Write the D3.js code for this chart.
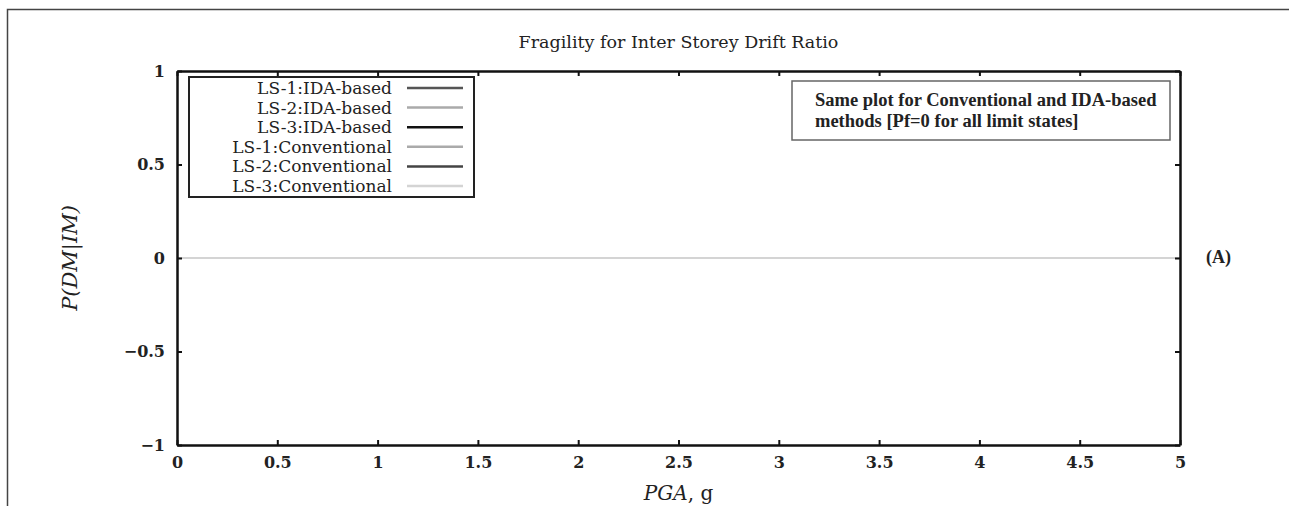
<!DOCTYPE html>
<html>
<head>
<meta charset="utf-8">
<script src="https://cdn.jsdelivr.net/npm/d3@7"></script>
<style>
body { margin: 0; background: #fff; }
text { font-family: "DejaVu Serif", serif; fill: #222; }
</style>
</head>
<body>
<div id="chart"></div>
<script>
// data
var pga = [0, 0.5, 1, 1.5, 2, 2.5, 3, 3.5, 4, 4.5, 5];
var seriesNames = ["LS-1:IDA-based", "LS-2:IDA-based", "LS-3:IDA-based",
                   "LS-1:Conventional", "LS-2:Conventional", "LS-3:Conventional"];
var seriesColours = ["#555", "#aaa", "#111", "#aaa", "#444", "#d4d4d4"];
var ls1Ida = [0, 0, 0, 0, 0, 0, 0, 0, 0, 0, 0];
var ls2Ida = [0, 0, 0, 0, 0, 0, 0, 0, 0, 0, 0];
var ls3Ida = [0, 0, 0, 0, 0, 0, 0, 0, 0, 0, 0];
var ls1Conv = [0, 0, 0, 0, 0, 0, 0, 0, 0, 0, 0];
var ls2Conv = [0, 0, 0, 0, 0, 0, 0, 0, 0, 0, 0];
var ls3Conv = [0, 0, 0, 0, 0, 0, 0, 0, 0, 0, 0];
var xTicks = [0, 0.5, 1, 1.5, 2, 2.5, 3, 3.5, 4, 4.5, 5];
var yTicks = [-1, -0.5, 0, 0.5, 1];

var allSeries = [ls1Ida, ls2Ida, ls3Ida, ls1Conv, ls2Conv, ls3Conv];

var width = 1289, height = 506;
var margin = {top: 71, right: 109, bottom: 61, left: 177},
graphWidth = width - margin.left - margin.right,
graphHeight = height - margin.top - margin.bottom;

var svg = d3.select("#chart")
.append("svg")
.attr("width", width)
.attr("height", height);

// outer frame (left and top only)
svg.append("path")
.attr("d", "M7.5," + height + "V9.5H" + width)
.attr("fill", "none")
.attr("stroke", "#444")
.attr("stroke-width", 1.5);

var g = svg.append("g")
.attr("transform", "translate(" + margin.left + "," + margin.top + ")");

var x = d3.scaleLinear().domain([0, 5]).range([0, graphWidth]);
var y = d3.scaleLinear().domain([-1, 1]).range([graphHeight, 0]);

var fmt = function (d) { return d3.format("")(d).replace("-", "\u2212"); };

// data lines
var line = d3.line()
.x(function (d, i) { return x(pga[i]); })
.y(function (d) { return y(d); });

allSeries.forEach(function (s, i) {
    g.append("path")
    .datum(s)
    .attr("d", line)
    .attr("fill", "none")
    .attr("stroke", seriesColours[i])
    .attr("stroke-width", 2);
});

// axes with inward ticks on all sides
g.append("g")
.attr("transform", "translate(0," + graphHeight + ")")
.call(d3.axisBottom(x).tickValues(xTicks).tickSizeInner(-5).tickSizeOuter(0).tickPadding(12).tickFormat(fmt));
g.append("g")
.call(d3.axisTop(x).tickValues(xTicks).tickSizeInner(-5).tickSizeOuter(0).tickFormat(""));
g.append("g")
.call(d3.axisLeft(y).tickValues(yTicks).tickSizeInner(-5).tickSizeOuter(0).tickPadding(12).tickFormat(fmt));
g.append("g")
.attr("transform", "translate(" + graphWidth + ",0)")
.call(d3.axisRight(y).tickValues(yTicks).tickSizeInner(-5).tickSizeOuter(0).tickFormat(""));

g.selectAll(".domain").attr("stroke", "#111").attr("stroke-width", 2.5);
g.selectAll(".tick line").attr("stroke", "#111").attr("stroke-width", 2);
g.selectAll(".tick text")
.style("font-family", "DejaVu Serif, serif")
.style("font-size", "16px")
.style("font-weight", "bold")
.attr("fill", "#222");

// title
svg.append("text")
.attr("x", margin.left + graphWidth / 2)
.attr("y", 48)
.attr("text-anchor", "middle")
.style("font-size", "17.5px")
.text("Fragility for Inter Storey Drift Ratio");

// axis labels
var xl = svg.append("text")
.attr("x", margin.left + graphWidth / 2)
.attr("y", 500)
.attr("text-anchor", "middle")
.style("font-size", "20px");
xl.append("tspan").style("font-style", "italic").text("PGA");
xl.append("tspan").text(", g");

svg.append("text")
.attr("transform", "translate(77," + (margin.top + graphHeight / 2) + ") rotate(-90)")
.attr("text-anchor", "middle")
.style("font-size", "21px")
.style("font-style", "italic")
.text("P(DM|IM)");

// legend
var legend = svg.append("g");
legend.append("rect")
.attr("x", 189).attr("y", 77)
.attr("width", 285).attr("height", 120)
.attr("fill", "#fff")
.attr("stroke", "#222")
.attr("stroke-width", 2);

seriesNames.forEach(function (name, i) {
    var ly = 88 + i * 19.6;
    legend.append("text")
    .attr("x", 392).attr("y", ly + 6)
    .attr("text-anchor", "end")
    .style("font-size", "17px")
    .text(name);
    legend.append("line")
    .attr("x1", 407).attr("x2", 463)
    .attr("y1", ly).attr("y2", ly)
    .attr("stroke", seriesColours[i])
    .attr("stroke-width", 2.5);
});

// note box
svg.append("rect")
.attr("x", 792).attr("y", 81)
.attr("width", 378).attr("height", 59)
.attr("fill", "#fff")
.attr("stroke", "#666")
.attr("stroke-width", 1.5);

var note = svg.append("text")
.attr("x", 815).attr("y", 106)
.style("font-family", "Liberation Serif, serif")
.style("font-size", "18.5px")
.style("font-weight", "bold");
note.append("tspan").attr("x", 815).text("Same plot for Conventional and IDA-based");
note.append("tspan").attr("x", 815).attr("dy", 21).text("methods [Pf=0 for all limit states]");

svg.append("text")
.attr("x", 1206).attr("y", 263)
.style("font-family", "Liberation Serif, serif")
.style("font-size", "18px")
.style("font-weight", "bold")
.text("(A)");
</script>
</body>
</html>
